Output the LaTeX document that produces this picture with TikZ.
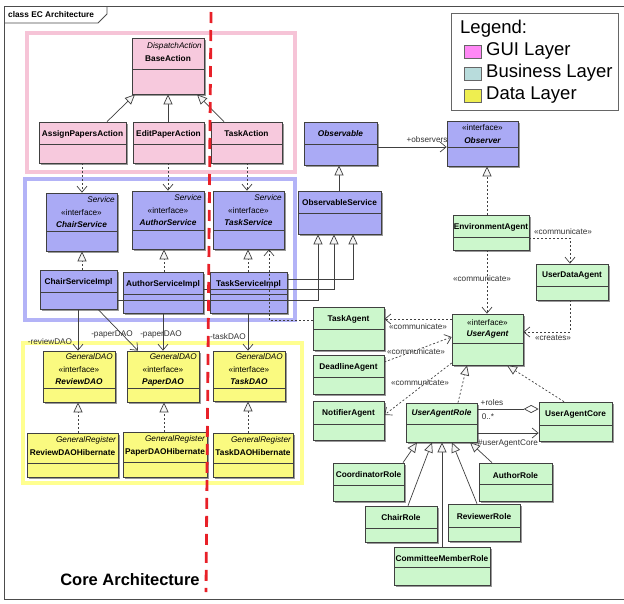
\documentclass[tikz,border=0pt]{standalone}
\usepackage{fontspec}
\setmainfont{Liberation Sans}
\usetikzlibrary{arrows.meta,shadows,fit}
\definecolor{pinkF}{HTML}{F7C9DD}
\definecolor{pinkR}{HTML}{F6C4D7}
\definecolor{blueF}{HTML}{AAAAF5}
\definecolor{blueR}{HTML}{B3B3F7}
\definecolor{yelF}{HTML}{FAFA80}
\definecolor{yelR}{HTML}{FFFF90}
\definecolor{grnF}{HTML}{CCF7CC}
\definecolor{lgGui}{HTML}{FF88F5}
\definecolor{lgBus}{HTML}{B8DCDC}
\definecolor{lgDat}{HTML}{EEEE50}
\definecolor{redL}{HTML}{E82028}
\newcommand\ucls[7]{%
  \node[cls, fill=#7, fit={(#2,#3)(#4,#5)}] (#1) {};
  \draw[clsline] (#2,#6) -- (#4,#6);
}
\begin{document}
\begin{tikzpicture}[x=1pt,y=-1pt,
  cls/.style={draw=black!75, line width=0.7pt, inner sep=0pt,
    drop shadow={shadow xshift=1.8pt, shadow yshift=-1.8pt, opacity=0.4, fill=black}},
  clsline/.style={draw=black!75, line width=0.7pt},
  nm/.style={font=\fontsize{8.3}{9}\selectfont\bfseries, inner sep=0pt},
  nmi/.style={font=\fontsize{8.3}{9}\selectfont\bfseries\itshape, inner sep=0pt},
  st/.style={font=\fontsize{8.2}{9}\selectfont, inner sep=0pt},
  stri/.style={font=\fontsize{8.2}{9}\selectfont\itshape, inner sep=0pt, anchor=east},
  lbl/.style={font=\fontsize{8.2}{9}\selectfont, text=black!80, inner sep=0pt},
  conn/.style={draw=black!75, line width=0.7pt},
  gen/.style={conn, -{Triangle[length=10pt,width=9pt,fill=black!4]}},
  real/.style={gen, dash pattern=on 2pt off 2pt},
  dep/.style={conn, dash pattern=on 2pt off 2pt, -{Straight Barb[length=6pt,width=10pt]}},
  assoc/.style={conn, -{Straight Barb[length=6pt,width=10pt]}},
  agg/.style={conn, -{Diamond[length=15pt,width=8pt,fill=white]}},
  region/.style={line width=4pt},
  lgsq/.style={draw=black!60, line width=0.5pt, minimum width=17pt, minimum height=13pt, inner sep=0pt},
  lgtx/.style={font=\fontsize{18.5}{20}\selectfont, anchor=west, inner sep=0pt}
]
\useasboundingbox (0,0) rectangle (624,603);
\fill[white] (0,0) rectangle (624,603);

% frame
\draw[black!70, line width=0.8pt] (624,6) -- (4,6) -- (4,599) -- (624,599);
\draw[black!70, line width=0.8pt] (4,23) -- (98,23) -- (107,14) -- (107,6);
\node[nm, anchor=west] (frameT) at (8,14.5) {class EC Architecture};

% layer regions
\draw[region, pinkR] (27,33) rectangle (295,172);
\draw[region, blueR] (25,179) rectangle (295,320);
\draw[region, yelR] (23,343) rectangle (302,483);

% legend
\draw[black!60, line width=0.7pt, fill=white] (451,13) rectangle (618,110);
\node[lgtx] (lgT) at (460,29) {Legend:};
\node[lgsq, fill=lgGui] (lg1) at (473,52) {};
\node[lgsq, fill=lgBus] (lg2) at (473,74) {};
\node[lgsq, fill=lgDat] (lg3) at (473,96) {};
\node[lgtx] (lg1t) at (486,51) {GUI Layer};
\node[lgtx] (lg2t) at (486,73) {Business Layer};
\node[lgtx] (lg3t) at (486,95) {Data Layer};

% ---------- GUI layer
\ucls{baseA}{132}{38}{204}{94}{69}{pinkF}
\ucls{assignA}{39}{122}{126}{163}{144}{pinkF}
\ucls{editA}{133}{122}{204}{163}{144}{pinkF}
\ucls{taskA}{211}{122}{282}{163}{144}{pinkF}
\node[stri] (baseAs) at (202,46) {DispatchAction};
\node[nm] (baseAn) at (baseA.center |- 0,59) {BaseAction};
\node[nm] (assignAn) at (assignA.center |- 0,134) {AssignPapersAction};
\node[nm] (editAn) at (editA.center |- 0,134) {EditPaperAction};
\node[nm] (taskAn) at (taskA.center |- 0,134) {TaskAction};

% ---------- Business layer
\ucls{chairS}{46}{193}{117}{251}{231}{blueF}
\ucls{authorS}{132}{191}{204}{249}{230}{blueF}
\ucls{taskS}{213}{191}{284}{249}{230}{blueF}
\ucls{obsS}{298}{191}{381}{234}{213}{blueF}
\ucls{chairI}{40}{270}{117}{309}{292}{blueF}
\ucls{authorI}{123}{272}{203}{313}{294}{blueF}
\ucls{taskI}{210}{272}{287}{313}{294}{blueF}
\ucls{observable}{304}{122}{377}{165}{144}{blueF}
\ucls{observer}{447}{121}{518}{166}{147}{blueF}
\node[stri] (chairSs) at (115,200) {Service};
\node[st] (chairSi) at (chairS.center |- 0,213) {«interface»};
\node[nmi] (chairSn) at (chairS.center |- 0,225) {ChairService};
\node[stri] (authorSs) at (202,198) {Service};
\node[st] (authorSi) at (authorS.center |- 0,211) {«interface»};
\node[nmi] (authorSn) at (authorS.center |- 0,223) {AuthorService};
\node[stri] (taskSs) at (282,198) {Service};
\node[st] (taskSi) at (taskS.center |- 0,211) {«interface»};
\node[nmi] (taskSn) at (taskS.center |- 0,223) {TaskService};
\node[nm] (obsSn) at (obsS.center |- 0,203) {ObservableService};
\node[nm] (chairIn) at (chairI.center |- 0,282) {ChairServiceImpl};
\node[nm] (authorIn) at (authorI.center |- 0,284) {AuthorServiceImpl};
\node[nm] (taskIn) at (taskI.center |- 0,284) {TaskServiceImpl};
\node[nmi] (observablen) at (observable.center |- 0,134) {Observable};
\node[st] (observeri) at (observer.center |- 0,128) {«interface»};
\node[nmi] (observern) at (observer.center |- 0,141) {Observer};

% ---------- Data layer
\ucls{reviewD}{43}{351}{115}{402}{388}{yelF}
\ucls{paperD}{127}{351}{199}{402}{388}{yelF}
\ucls{taskD}{213}{351}{285}{401}{388}{yelF}
\ucls{reviewH}{27}{433}{118}{477}{463}{yelF}
\ucls{paperH}{123}{432}{207}{477}{462}{yelF}
\ucls{taskH}{213}{433}{293}{477}{463}{yelF}
\node[stri] (reviewDs) at (113,357) {GeneralDAO};
\node[st] (reviewDi) at (reviewD.center |- 0,370) {«interface»};
\node[nmi] (reviewDn) at (reviewD.center |- 0,382) {ReviewDAO};
\node[stri] (paperDs) at (197,357) {GeneralDAO};
\node[st] (paperDi) at (paperD.center |- 0,370) {«interface»};
\node[nmi] (paperDn) at (paperD.center |- 0,382) {PaperDAO};
\node[stri] (taskDs) at (283,357) {GeneralDAO};
\node[st] (taskDi) at (taskD.center |- 0,370) {«interface»};
\node[nmi] (taskDn) at (taskD.center |- 0,382) {TaskDAO};
\node[stri] (reviewHs) at (116,440) {GeneralRegister};
\node[nm] (reviewHn) at (reviewH.center |- 0,453) {ReviewDAOHibernate};
\node[stri] (paperHs) at (205,439) {GeneralRegister};
\node[nm] (paperHn) at (paperH.center |- 0,452) {PaperDAOHibernate};
\node[stri] (taskHs) at (291,440) {GeneralRegister};
\node[nm] (taskHn) at (taskH.center |- 0,453) {TaskDAOHibernate};

% ---------- Agents
\ucls{envA}{453}{215}{529}{250}{237}{grnF}
\ucls{userData}{536}{264}{608}{300}{286}{grnF}
\ucls{userA}{452}{314}{523}{365}{343}{grnF}
\ucls{taskAg}{313}{307}{384}{350}{329}{grnF}
\ucls{deadA}{313}{355}{384}{394}{377}{grnF}
\ucls{notifA}{313}{401}{384}{440}{424}{grnF}
\ucls{uaRole}{406}{403}{477}{442}{424}{grnF}
\ucls{uaCore}{539}{402}{612}{441}{425}{grnF}
\ucls{coordR}{333}{463}{404}{501}{485}{grnF}
\ucls{chairR}{365}{506}{437}{542}{528}{grnF}
\ucls{commR}{394}{547}{490}{585}{567}{grnF}
\ucls{reviewerR}{448}{504}{520}{541}{527}{grnF}
\ucls{authorR}{479}{463}{552}{501}{484}{grnF}
\node[nm] (envAn) at (envA.center |- 0,227) {EnvironmentAgent};
\node[nm] (userDatan) at (userData.center |- 0,276) {UserDataAgent};
\node[st] (userAi) at (userA.center |- 0,323) {«interface»};
\node[nmi] (userAn) at (userA.center |- 0,334) {UserAgent};
\node[nm] (taskAgn) at (taskAg.center |- 0,319) {TaskAgent};
\node[nm] (deadAn) at (deadA.center |- 0,367) {DeadlineAgent};
\node[nm] (notifAn) at (notifA.center |- 0,413) {NotifierAgent};
\node[nmi] (uaRolen) at (uaRole.center |- 0,413) {UserAgentRole};
\node[nm] (uaCoren) at (uaCore.center |- 0,414) {UserAgentCore};
\node[nm] (coordRn) at (coordR.center |- 0,475) {CoordinatorRole};
\node[nm] (chairRn) at (chairR.center |- 0,518) {ChairRole};
\node[nm] (commRn) at (commR.center |- 0,559) {CommitteeMemberRole};
\node[nm] (reviewerRn) at (reviewerR.center |- 0,517) {ReviewerRole};
\node[nm] (authorRn) at (authorR.center |- 0,476) {AuthorRole};

% ---------- connectors: GUI
\draw[gen] (107,0 |- assignA.north) -- (135,0 |- baseA.south);
\draw[gen] (168,0 |- editA.north) -- (168,0 |- baseA.south);
\draw[gen] (224,0 |- taskA.north) -- (197,0 |- baseA.south);
\draw[dep] (82,0 |- assignA.south) -- (82,0 |- chairS.north);
\draw[dep] (168,0 |- editA.south) -- (168,0 |- authorS.north);
\draw[dep] (247,0 |- taskA.south) -- (247,0 |- taskS.north);

% business
\draw[real] (82,0 |- chairI.north) -- (82,0 |- chairS.south);
\draw[real] (164,0 |- authorI.north) -- (164,0 |- authorS.south);
\draw[real] (248,0 |- taskI.north) -- (248,0 |- taskS.south);
\draw[gen] (chairI.east |- 0,300) -| (318,0 |- obsS.south);
\draw[gen] (authorI.east |- 0,289) -| (334,0 |- obsS.south);
\draw[gen] (taskI.east |- 0,279) -| (353,0 |- obsS.south);
\draw[gen] (339,0 |- obsS.north) -- (339,0 |- observable.south);
\draw[assoc] (observable.east |- 0,147) -- (observer.west |- 0,147);
\node[lbl] (obsL) at (427,140) {+observers};
\draw[dep] (taskAg.west |- 0,320) -| (269,0 |- taskS.south);

% data
\draw[assoc] (78,0 |- chairI.south) -- (78,0 |- reviewD.north);
\draw[assoc] (98,0 |- chairI.south) -- (138,0 |- paperD.north);
\draw[assoc] (163,0 |- authorI.south) -- (163,0 |- paperD.north);
\draw[assoc] (248,0 |- taskI.south) -- (248,0 |- taskD.north);
\node[lbl] (revL) at (50,342) {-reviewDAO};
\node[lbl] (papL1) at (112,334) {-paperDAO};
\node[lbl] (papL2) at (161,334) {-paperDAO};
\node[lbl] (taskDL) at (228,337) {-taskDAO};
\draw[real] (78,0 |- reviewH.north) -- (78,0 |- reviewD.south);
\draw[real] (164,0 |- paperH.north) -- (164,0 |- paperD.south);
\draw[real] (248,0 |- taskH.north) -- (248,0 |- taskD.south);

% agents
\draw[real] (487,0 |- envA.north) -- (487,0 |- observer.south);
\draw[dep] (envA.east |- 0,238) -| (570,0 |- userData.north);
\node[lbl] (envL1) at (563,232) {«communicate»};
\draw[dep] (487,0 |- envA.south) -- (487,0 |- userA.north);
\node[lbl] (envL2) at (482,279) {«communicate»};
\draw[dep] (570,0 |- userData.south) |- (userA.east |- 0,332);
\node[lbl] (creL) at (553,338) {«creates»};
\draw[dep] (userA.west |- 0,319) -- (taskAg.east |- 0,319);
\node[lbl] (comL1) at (418,327) {«communicate»};
\draw[dep] (deadA.east |- 0,362) -- (userA.west |- 0,337);
\node[lbl] (comL2) at (416,352) {«communicate»};
\draw[dep] (userA.west |- 0,363) -- (notifA.east |- 0,415);
\node[lbl] (comL3) at (420,383) {«communicate»};
\draw[real] (458,0 |- uaRole.north) -- (467,0 |- userA.south);
\draw[real] (564,0 |- uaCore.north) -- (507,0 |- userA.south);
\draw[agg] (uaRole.east |- 0,409) -- (uaCore.west |- 0,409);
\node[lbl] (rolesL) at (492,403) {+roles};
\node[lbl] (multL) at (488,417) {0..*};
\draw[assoc] (uaRole.east |- 0,433) -- (uaCore.west |- 0,433);
\node[lbl] (uacL) at (508,443) {\#userAgentCore};
\draw[gen] (403,0 |- coordR.north) -- (417,0 |- uaRole.south);
\draw[gen] (408,0 |- chairR.north) -- (432,0 |- uaRole.south);
\draw[gen] (442,0 |- commR.north) -- (442,0 |- uaRole.south);
\draw[gen] (477,0 |- reviewerR.north) -- (452,0 |- uaRole.south);
\draw[gen] (492,0 |- authorR.north) -- (470,0 |- uaRole.south);

% title and red line
\node[font=\fontsize{16.5}{18}\selectfont\bfseries, inner sep=0pt] (title) at (130,580) {Core Architecture};
\coordinate (redTop) at (211,12);
\coordinate (redBot) at (206,592);
\draw[redL, line width=2.8pt, dash pattern=on 11pt off 7pt] (redTop) -- (redBot);
\end{tikzpicture}
\end{document}
